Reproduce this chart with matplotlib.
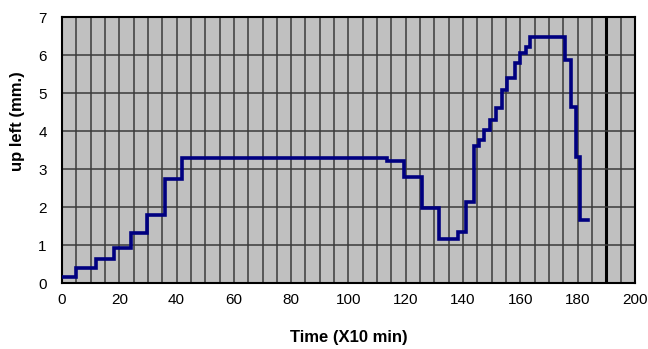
import matplotlib
matplotlib.use("Agg")
import matplotlib.pyplot as plt
import numpy as np

plt.rcParams["font.family"] = ["Liberation Sans", "DejaVu Sans"]

# step edges (x10 min) and uplift level held from each edge (mm)
time_edges = [0, 5, 12, 18, 24, 29.5, 36, 42, 113.5, 119.3, 125.7, 131.5,
              138.4, 141, 143.7, 145.5, 147.5, 149.5, 151.5, 153.5, 155.5,
              158, 160, 162, 163.5, 175.6, 177.7, 179.5, 181, 183.7]
uplift = [0.17, 0.39, 0.62, 0.92, 1.31, 1.78, 2.75, 3.28, 3.2, 2.79, 1.97,
          1.16, 1.34, 2.13, 3.6, 3.76, 4.03, 4.29, 4.61, 5.08, 5.39, 5.79,
          6.05, 6.21, 6.48, 5.87, 4.63, 3.32, 1.66, 1.66]

x_ticks = np.arange(0, 201, 20)
y_ticks = np.arange(0, 8, 1)

fig = plt.figure(figsize=(6.48, 3.49), dpi=100)
ax = fig.add_axes([0.0957, 0.189, 0.884, 0.762])
ax.set_facecolor("#c0c0c0")

for gx in np.arange(5, 200, 5):
    ax.axvline(gx, color="#3a3a3a", lw=1.1, zorder=1)
ax.axvline(190, color="black", lw=2.2, zorder=1)
for gy in range(1, 7):
    ax.axhline(gy, color="#3a3a3a", lw=1.1, zorder=1)

ax.plot(time_edges, uplift, drawstyle="steps-post", color="#000080",
        lw=2.6, zorder=3, solid_joinstyle="miter")

ax.set_xlim(0, 200)
ax.set_ylim(0, 7)
ax.set_xticks(x_ticks)
ax.set_yticks(y_ticks)
ax.tick_params(length=0, labelsize=11)
ax.tick_params(axis="x", pad=7)
ax.tick_params(axis="y", pad=11)
for s in ax.spines.values():
    s.set_color("black")
    s.set_linewidth(1.5)

ax.set_xlabel("Time (X10 min)", fontsize=12, fontweight="bold")
ax.set_ylabel("up left (mm.)", fontsize=12, fontweight="bold")
ax.xaxis.set_label_coords(0.5, -0.177)
ax.yaxis.set_label_coords(-0.064, 0.61)

fig.savefig("out.png", dpi=100)
